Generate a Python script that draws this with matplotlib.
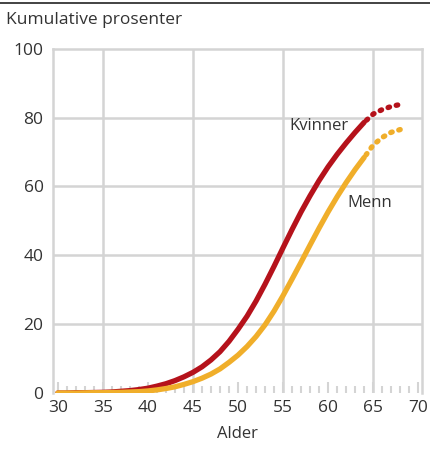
import matplotlib
matplotlib.use("Agg")
import matplotlib.pyplot as plt
from matplotlib.ticker import MultipleLocator

plt.rcParams['font.family'] = ['Open Sans', 'DejaVu Sans']

# alder (heltrukket del) og kumulative prosenter
alder = list(range(30, 65))
kvinner = [0.0, 0.0, 0.1, 0.1, 0.15, 0.2, 0.3, 0.5, 0.7, 1.0,
           1.4, 2.0, 2.7, 3.6, 4.7, 6.0, 7.6, 9.6, 12.0, 15.0,
           18.5, 22.3, 26.7, 31.6, 36.8, 42.2, 47.5, 52.6, 57.3, 61.7,
           65.7, 69.3, 72.6, 75.7, 78.6]
menn = [0.0, 0.0, 0.0, 0.05, 0.1, 0.1, 0.15, 0.2, 0.3, 0.4,
        0.6, 0.9, 1.3, 1.8, 2.5, 3.3, 4.3, 5.5, 7.0, 8.9,
        11.0, 13.5, 16.4, 19.8, 23.8, 28.3, 33.1, 38.0, 43.0, 47.9,
        52.6, 57.0, 61.1, 64.9, 68.4]

# fremskrevet del (prikket)
alder_fram = [64, 65, 66, 67, 68]
kvinner_fram = [78.6, 81.0, 82.3, 83.2, 83.8]
menn_fram = [68.4, 72.0, 74.2, 75.7, 76.5]

xticks = [30, 35, 40, 45, 50, 55, 60, 65, 70]
yticks = [0, 20, 40, 60, 80, 100]

rod = '#b5121b'
gul = '#f0ae2a'
grid = '#d4d4d4'
tekst = '#333333'

fig = plt.figure(figsize=(4.30, 4.49), dpi=100)
ax = fig.add_axes([0.124, 0.1247, 0.857, 0.767])

# rutenett
for x in [35, 45, 55, 65]:
    ax.axvline(x, color=grid, lw=1.8, zorder=1)
for y in yticks[1:-1]:
    ax.axhline(y, color=grid, lw=1.8, zorder=1)

ax.plot(alder, kvinner, color=rod, lw=3.8, solid_capstyle='round', zorder=3)
ax.plot(alder, menn, color=gul, lw=3.8, solid_capstyle='round', zorder=4)
ax.plot(alder_fram, kvinner_fram, color=rod, lw=3.8, linestyle=(1.0, (0.3, 1.3)),
        dash_capstyle='round', zorder=3)
ax.plot(alder_fram, menn_fram, color=gul, lw=3.8, linestyle=(1.0, (0.3, 1.3)),
        dash_capstyle='round', zorder=4)

ax.text(62.3, 77.4, 'Kvinner', ha='right', va='center', fontsize=12, color=tekst)
ax.text(62.1, 55.3, 'Menn', ha='left', va='center', fontsize=12, color=tekst)

ax.set_xlim(29.5, 70.4)
ax.set_ylim(0, 100)
ax.xaxis.set_minor_locator(MultipleLocator(1))
ax.set_yticks(yticks)

# etiketter for x-aksen hver 5. år
ax.set_xticks(xticks)
ax.set_xticklabels([str(v) for v in xticks])
ax.tick_params(axis='x', which='major', direction='in', length=8, width=1.5,
               color=grid, labelsize=12.5, labelcolor=tekst, pad=5)
ax.tick_params(axis='x', which='minor', direction='in', length=5, width=1.5, color=grid)
ax.tick_params(axis='y', length=0, labelsize=12.5, labelcolor=tekst, pad=7)

for s in ['left', 'right', 'top']:
    ax.spines[s].set_color(grid)
    ax.spines[s].set_linewidth(1.8)
ax.spines['bottom'].set_visible(False)

ax.set_xlabel('Alder', fontsize=12, color=tekst, labelpad=7)
fig.text(0.014, 0.955, 'Kumulative prosenter', fontsize=12.5, color=tekst, va='center')
fig.add_artist(plt.Line2D([0, 1], [0.993, 0.993], color='#222222', lw=1.2))

fig.savefig('out.png', dpi=100)
